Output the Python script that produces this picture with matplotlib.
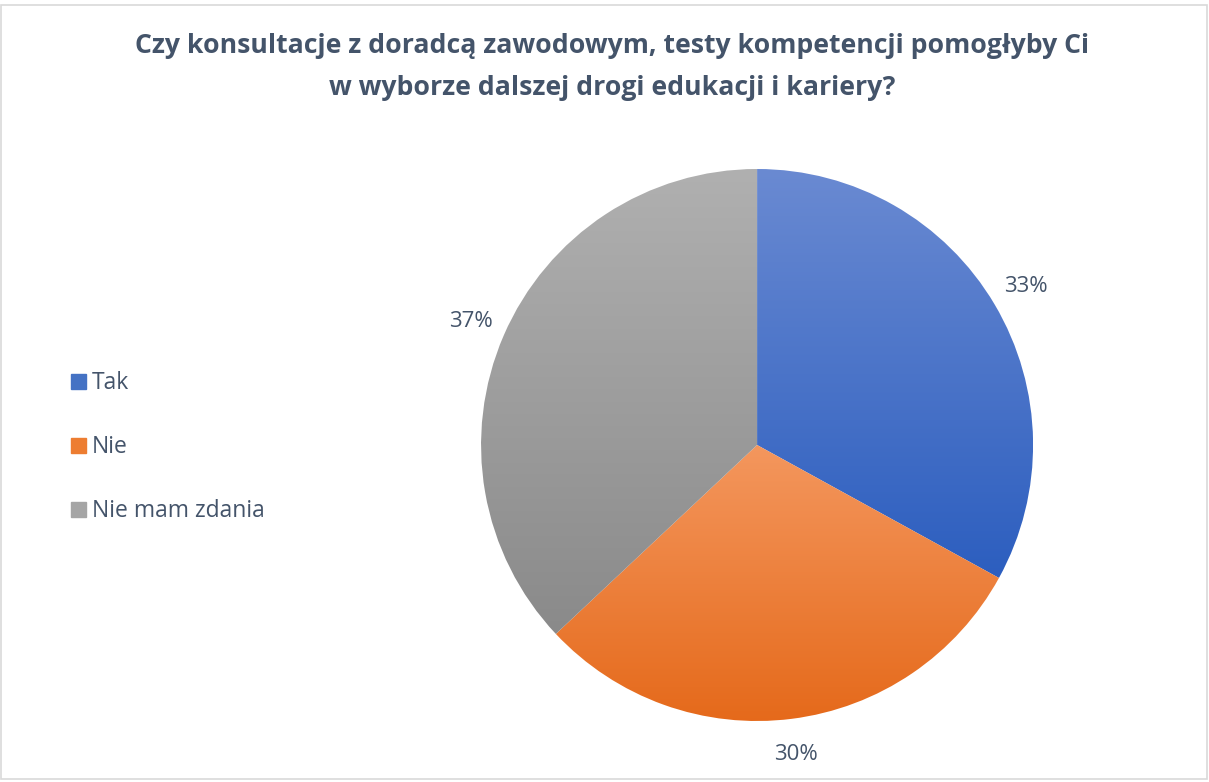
import numpy as np
import matplotlib.pyplot as plt
import matplotlib.patches as mpatches
from matplotlib.colors import LinearSegmentedColormap

plt.rcParams['font.family'] = ['Open Sans', 'DejaVu Sans']

labels = ['Tak', 'Nie', 'Nie mam zdania']
values = [33, 30, 37]
top_cols = ['#6A8AD2', '#F4975E', '#B0B0B0']
bot_cols = ['#2C5EBF', '#E5691A', '#8A8A8A']
mid_cols = ['#4472C4', '#ED7D31', '#A5A5A5']

txt = '#44546A'

fig = plt.figure(figsize=(12.09, 7.82), dpi=100)
fig.patches.append(mpatches.Rectangle((0.001, 0.004), 0.997, 0.99, transform=fig.transFigure,
                                      fill=False, edgecolor='#D9D9D9', lw=1.2))

fig.text(0.506, 0.914, 'Czy konsultacje z doradcą zawodowym, testy kompetencji pomogłyby Ci\n'
         'w wyborze dalszej drogi edukacji i kariery?', ha='center', va='center',
         fontsize=19.2, fontweight='bold', color=txt, linespacing=1.78)

ax = fig.add_axes([0.3979, 0.078, 0.4566, 0.7059])
wedges, texts, autotexts = ax.pie(values, startangle=90, counterclock=False,
                                  autopct='%1.0f%%', pctdistance=1.13,
                                  wedgeprops=dict(linewidth=0))
for t in autotexts:
    t.set_color(txt)
    t.set_fontsize(16)

for w, c1, c2 in zip(wedges, top_cols, bot_cols):
    w.set_facecolor('none')
    verts = w.get_path().vertices
    verts = w.get_patch_transform().transform(verts)
    y0, y1 = verts[:, 1].min(), verts[:, 1].max()
    x0, x1 = verts[:, 0].min(), verts[:, 0].max()
    cmap = LinearSegmentedColormap.from_list('g', [c2, c1])
    grad = np.linspace(0, 1, 256).reshape(-1, 1)
    im = ax.imshow(grad, extent=[x0, x1, y0, y1], origin='lower', cmap=cmap,
                   aspect='auto', zorder=0.5)
    im.set_clip_path(w)
ax.set_xlim(-1, 1)
ax.set_ylim(-1, 1)
ax.axis('off')

handles = [mpatches.Patch(color=c, label=l) for c, l in zip(mid_cols, labels)]
leg = fig.legend(handles=handles, loc='center left', bbox_to_anchor=(0.042, 0.428),
                 frameon=False, fontsize=16.5, labelspacing=1.75, handlelength=0.65,
                 handleheight=0.65, handletextpad=0.25)
for t in leg.get_texts():
    t.set_color(txt)

fig.savefig('out.png', dpi=100)
